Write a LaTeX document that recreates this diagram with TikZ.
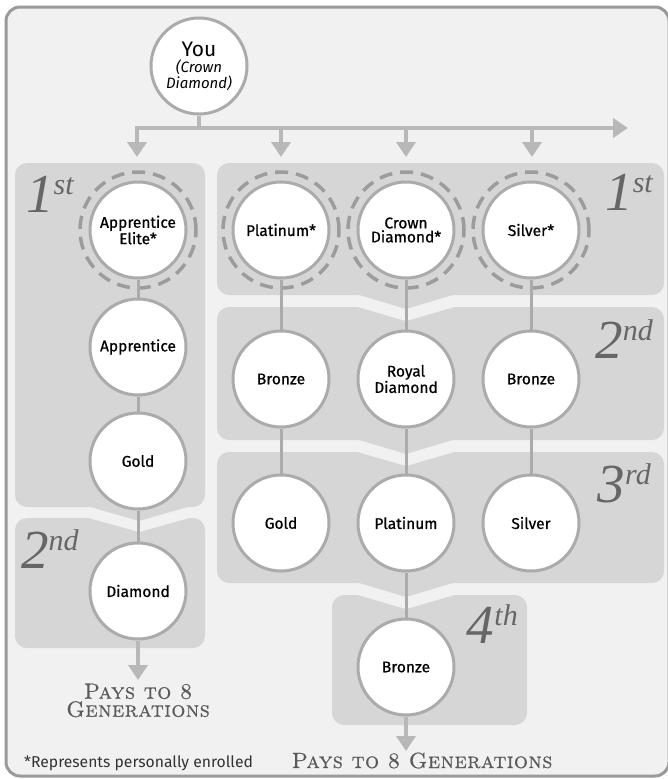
\documentclass[tikz,border=0pt]{standalone}
\usepackage{fontspec}
\newfontfamily\nodefont{Fira Sans}[FakeBold=0.7]
\newfontfamily\plainsans{Fira Sans}
\newfontfamily\levelfont{Liberation Serif}
\newfontfamily\paysfont{lmromancaps10-regular.otf}[FakeBold=0.6,LetterSpace=2]
\usetikzlibrary{arrows.meta}
\definecolor{framebg}{HTML}{F1F1F1}
\definecolor{frameline}{HTML}{9A9A9A}
\definecolor{boxbg}{HTML}{D6D6D6}
\definecolor{circline}{HTML}{ABABAB}
\definecolor{ringline}{HTML}{9C9C9C}
\definecolor{arrowc}{HTML}{B8B8B8}
\definecolor{labelc}{HTML}{666666}
\definecolor{paysc}{HTML}{5A5A5A}
\newcommand\lvsup[1]{\raisebox{18pt}{\fontsize{30}{30}\selectfont #1}}
\begin{document}
\begin{tikzpicture}[x=1pt,y=-1pt,
 member/.style={circle,draw=circline,line width=3pt,fill=white,minimum size=96pt,inner sep=0pt,align=center,font=\nodefont\fontsize{15.5}{14}\selectfont,text=black},
 ring/.style={draw=ringline,line width=3.5pt,dash pattern=on 13pt off 8pt},
 link/.style={draw=circline,line width=3pt},
 flow/.style={draw=arrowc,line width=4pt,-{Triangle[width=19pt,length=15pt]}},
 bar/.style={draw=arrowc,line width=4pt},
 level/.style={text=labelc,inner sep=0pt,font=\levelfont\itshape\fontsize{55}{55}\selectfont},
 levelbox/.style={fill=boxbg,rounded corners=12pt},
 chev/.style={fill=boxbg},
 notch/.style={fill=framebg},
 pays/.style={text=paysc,inner sep=0pt,font=\paysfont\fontsize{22}{18}\selectfont}
]
\useasboundingbox (0,0) rectangle (667,779);
\fill[framebg,draw=frameline,line width=3pt,rounded corners=14pt] (6,7) rectangle (669,776);

% level boxes
\path[levelbox] (15,163) rectangle (205,507);
\path[levelbox] (15,518) rectangle (205,648);
\path[levelbox] (217,163) rectangle (664,295);
\path[levelbox] (217,307) rectangle (664,440);
\path[levelbox] (217,452) rectangle (664,583);
\path[levelbox] (332,595) rectangle (527,725);
% notches
\path[notch] (87,517.5) -- (191,517.5) -- (139,532) -- cycle;
\path[notch] (356,306.5) -- (456,306.5) -- (406,321) -- cycle;
\path[notch] (356,451.5) -- (456,451.5) -- (406,466) -- cycle;
\path[notch] (356,594.5) -- (456,594.5) -- (406,609) -- cycle;
% chevrons
\path[chev] (87,506) -- (191,506) -- (139,521) -- cycle;
\path[chev] (356,294) -- (456,294) -- (406,309) -- cycle;
\path[chev] (356,439) -- (456,439) -- (406,454) -- cycle;
\path[chev] (356,582) -- (456,582) -- (406,597) -- cycle;

% level labels
\node[level,anchor=base west] (lva) at (26,212) {1\lvsup{st}};
\node[level,anchor=base east] (lvb) at (653,210) {1\lvsup{st}};
\node[level,anchor=base east] (lvc) at (653,358) {2\lvsup{nd}};
\node[level,anchor=base east] (lvd) at (651,502) {3\lvsup{rd}};
\node[level,anchor=base east] (lve) at (518,643) {4\lvsup{th}};
\node[level,anchor=base west] (lvf) at (21,568) {2\lvsup{nd}};

% top node
\node[member,font=\plainsans] (you) at (199,66) {{\fontsize{21}{22}\selectfont You}\\[2pt]{\itshape\fontsize{15}{18}\selectfont (Crown}\\{\itshape\fontsize{15}{18}\selectfont Diamond)}};

% members
\node[member] (ae) at (138,230) {Apprentice\\Elite*};
\node[member] (ap) at (138,347) {Apprentice};
\node[member] (gl) at (138,461) {Gold};
\node[member] (dm) at (138,591) {Diamond};

\node[member] (p1) at (281,230) {Platinum*};
\node[member] (c1) at (406,230) {Crown\\Diamond*};
\node[member] (s1) at (531,230) {Silver*};

\node[member] (b2) at (281,379) {Bronze};
\node[member] (r2) at (406,379) {Royal\\Diamond};
\node[member] (z2) at (531,379) {Bronze};

\node[member] (g3) at (281,523) {Gold};
\node[member] (p3) at (406,523) {Platinum};
\node[member] (s3) at (531,523) {Silver};

\node[member] (b4) at (406,667) {Bronze};

% rings
\foreach \n in {ae,p1,c1,s1} \draw[ring] (\n.center) circle (58pt);

% links
\draw[link] (ae) -- (ap);
\draw[link] (ap) -- (gl);
\draw[link] (gl) -- (dm);
\draw[link] (p1) -- (b2);
\draw[link] (c1) -- (r2);
\draw[link] (s1) -- (z2);
\draw[link] (b2) -- (g3);
\draw[link] (r2) -- (p3);
\draw[link] (z2) -- (s3);
\draw[link] (p3) -- (b4);

% distribution arrows
\coordinate (j0) at (199,130);
\coordinate (t1) at (137,157);
\coordinate (br) at (628,128);
\coordinate (d2) at (281,126);
\coordinate (d3) at (406,126);
\coordinate (d4) at (532,126);
\coordinate (t2) at (281,157);
\coordinate (t3) at (406,157);
\coordinate (t4) at (532,157);
\draw[bar] (you.south) -- (j0);
\draw[draw=arrowc,line width=4pt,{Triangle[width=19pt,length=15pt]}-{Triangle[width=19pt,length=15pt]}] (t1) |- (br);
\draw[flow] (d2) -- (t2);
\draw[flow] (d3) -- (t3);
\draw[flow] (d4) -- (t4);

\coordinate (e1) at (138,680);
\coordinate (e2) at (406,751);
\draw[flow] (dm.south) -- (e1);
\draw[flow] (b4.south) -- (e2);

% texts
\node[pays,anchor=north,align=center] (pa) at (138,683.5) {Pays to 8\\Generations};
\node[pays,anchor=base] (pc) at (422,768) {Pays to 8 Generations};
\node[anchor=base west,inner sep=0pt,text=black!80,font=\plainsans\fontsize{15.7}{16}\selectfont] (fn) at (24,767) {*Represents personally enrolled};
\end{tikzpicture}
\end{document}
